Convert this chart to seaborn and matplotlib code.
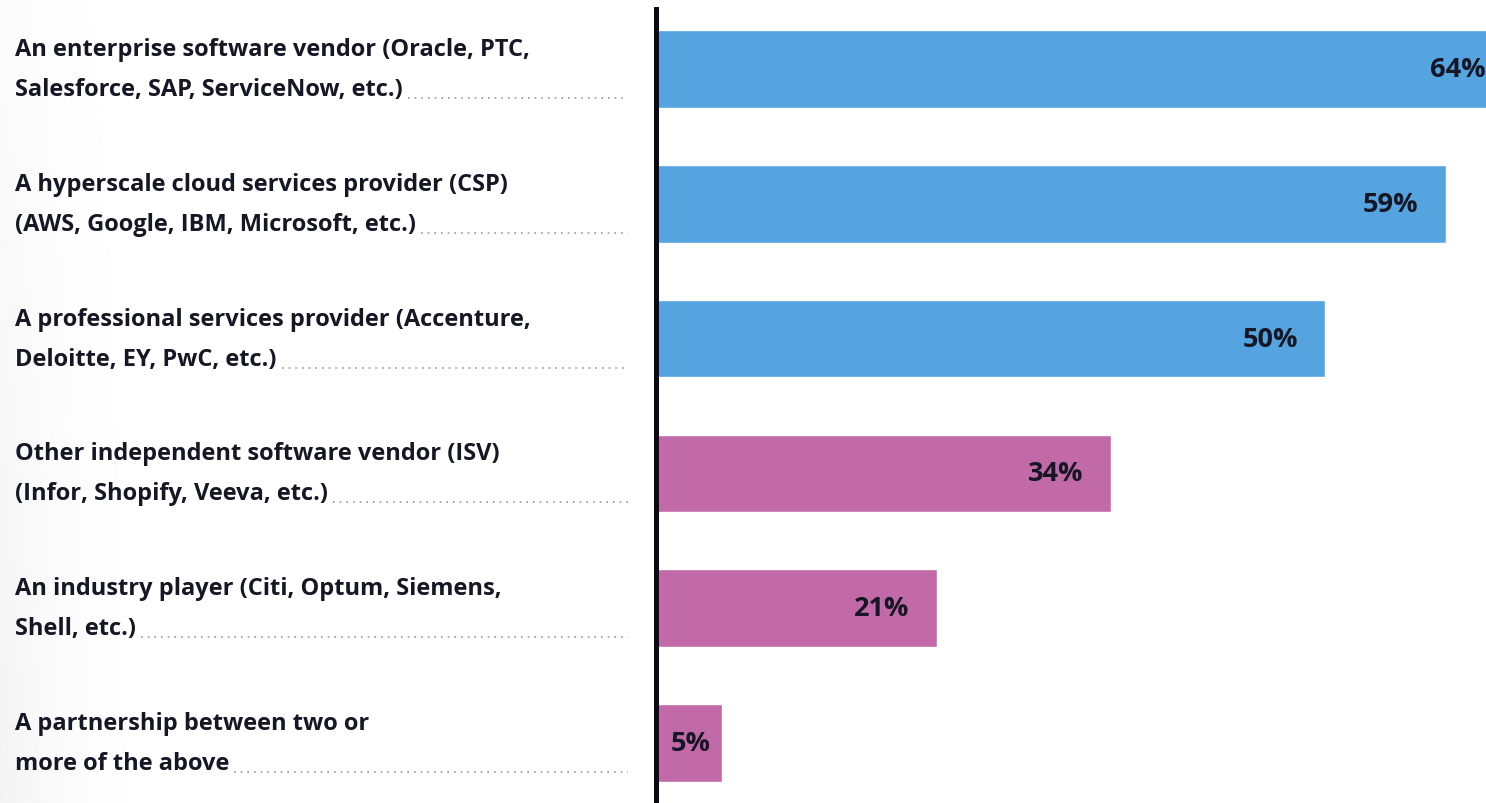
"""Horizontal bar chart: preferred provider type."""

import matplotlib.pyplot as plt
import numpy as np
import pandas as pd
import seaborn as sns

# Data
labels = [
    "An enterprise software vendor (Oracle, PTC,\nSalesforce, SAP, ServiceNow, etc.)",
    "A hyperscale cloud services provider (CSP)\n(AWS, Google, IBM, Microsoft, etc.)",
    "A professional services provider (Accenture,\nDeloitte, EY, PwC, etc.)",
    "Other independent software vendor (ISV)\n(Infor, Shopify, Veeva, etc.)",
    "An industry player (Citi, Optum, Siemens,\nShell, etc.)",
    "A partnership between two or\nmore of the above",
]
values = [64, 59, 50, 34, 21, 5]
groups = ["big", "big", "big", "other", "other", "other"]

palette = {"big": "#55A4E0", "other": "#C26AA8"}
text_color = "#161624"

df = pd.DataFrame({"label": labels, "value": values, "group": groups})

sns.set_style("white")
plt.rcParams["font.family"] = ["Open Sans", "DejaVu Sans"]

W, H = 1486, 804
fig = plt.figure(figsize=(W / 100, H / 100), dpi=100)

# faint grey wash on the far left
bg = fig.add_axes([0, 0, 0.2, 1], zorder=-1)
gx = np.linspace(0, 1, 200)
gy = np.linspace(0, 1, 100)[:, None]
fade = np.clip(1 - gx / 0.6, 0, 1) ** 2 * (0.35 + 0.65 * gy)
bg.imshow(1 - 0.045 * fade, cmap="gray", vmin=0, vmax=1, aspect="auto",
          extent=(0, 1, 0, 1), origin="upper")
bg.axis("off")

axis_x = 655.5
ax = fig.add_axes([axis_x / W, 0, 1 - axis_x / W, 1 - 10 / H])
ax.patch.set_alpha(0)

sns.barplot(
    data=df, x="value", y="label", hue="group", palette=palette,
    dodge=False, legend=False, width=0.575, saturation=1, ax=ax,
)

ax.set_xlim(0, 62)
ax.set_ylim(5.445, -0.445)
ax.set_xlabel("")
ax.set_ylabel("")
ax.set_xticks([])
ax.set_yticks([])
for side in ["top", "right", "bottom"]:
    ax.spines[side].set_visible(False)
ax.spines["left"].set_linewidth(3.6)
ax.spines["left"].set_color("#0A0A14")
ax.spines["left"].set_zorder(5)

# value labels inside bar ends (centred when the bar is short)
for i, v in enumerate(values):
    if v < 10:
        ax.annotate(
            f"{v}%", xy=(v / 2, i), xytext=(1.5, 0), textcoords="offset points",
            ha="center", va="center", fontsize=19.5, fontweight="bold",
            color=text_color,
        )
    else:
        ax.annotate(
            f"{v}%", xy=(v, i), xytext=(-19.5, 0), textcoords="offset points",
            ha="right", va="center", fontsize=19.5, fontweight="bold",
            color=text_color, annotation_clip=False,
        )

# category labels with dotted leaders
left_px = 15
leader_end_px = 628
renderer = fig.canvas.get_renderer()
ytrans = ax.transData
for i, lab in enumerate(labels):
    first, second = lab.split("\n")
    yc = ytrans.transform((0, i))[1]
    fig.text(left_px / W, (yc + 20) / H, first, ha="left", va="center",
             fontsize=17, fontweight="bold", color=text_color)
    t2 = fig.text(left_px / W, (yc - 20) / H, second, ha="left", va="center",
                  fontsize=17, fontweight="bold", color=text_color)
    bb = t2.get_window_extent(renderer)
    y_dot = (yc - 29) / H
    fig.add_artist(plt.Line2D(
        [(bb.x1 + 5) / W, leader_end_px / W], [y_dot, y_dot],
        transform=fig.transFigure, color="#9A9A9A", lw=1.2,
        linestyle=(0, (1, 3)),
    ))

fig.savefig("out.png", dpi=100)
